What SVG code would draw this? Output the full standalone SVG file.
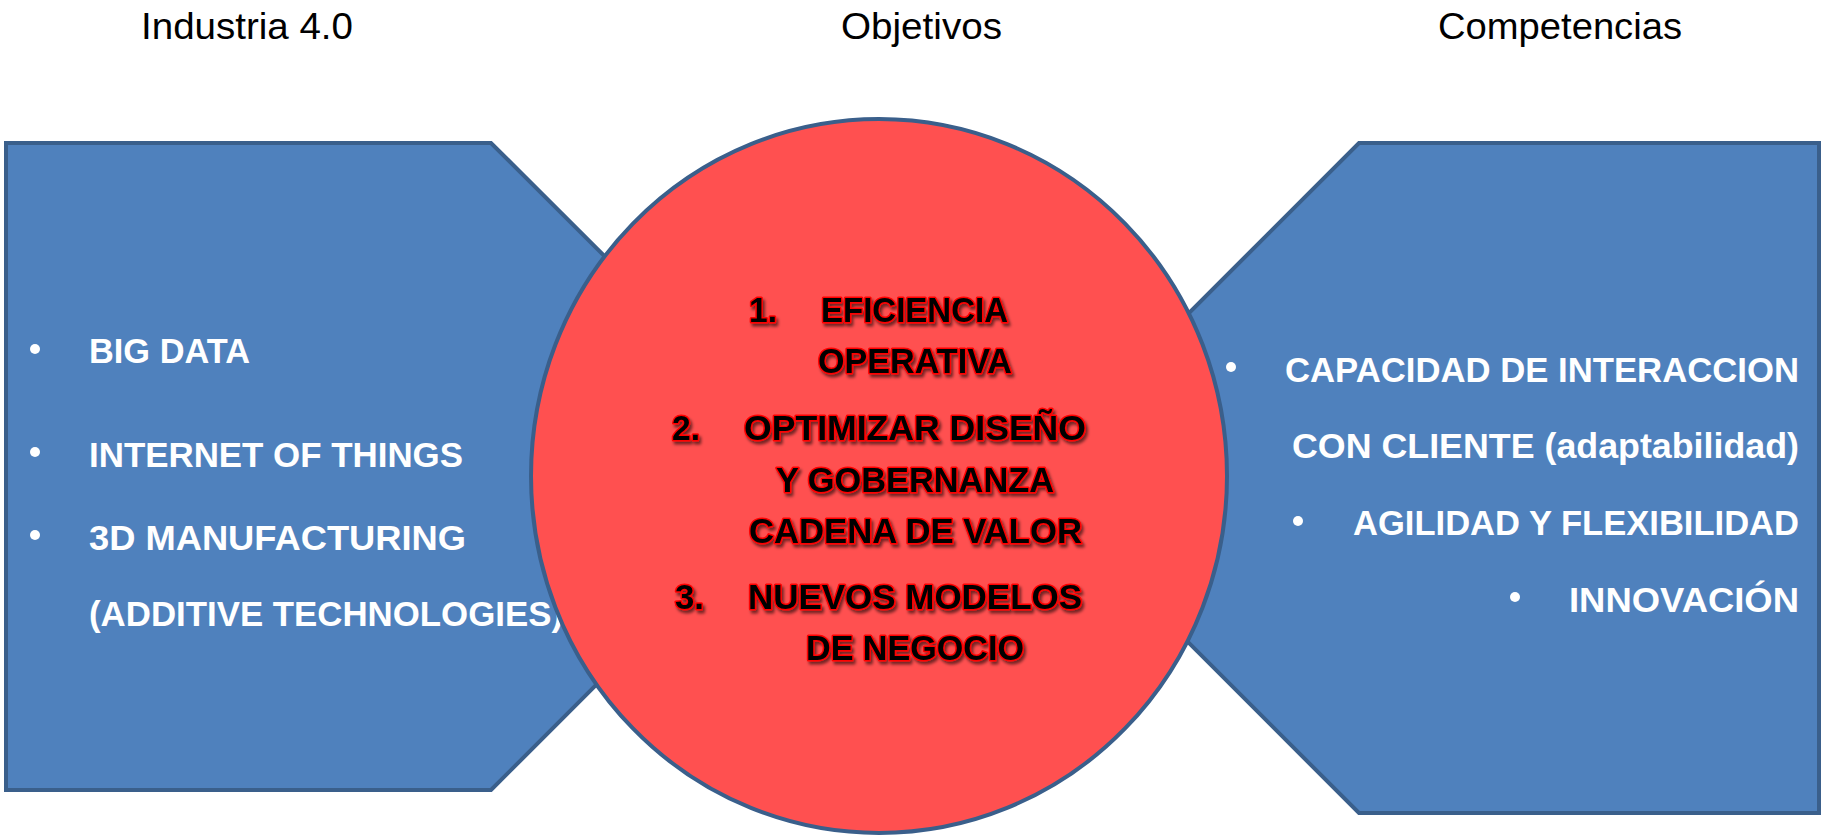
<svg xmlns="http://www.w3.org/2000/svg" width="1825" height="836" viewBox="0 0 1825 836">
<style>
.title{font-family:"Liberation Sans",Arial,sans-serif;font-size:36px;fill:#000}
.shape{fill:#4F81BD;stroke:#3A5F8B;stroke-width:4;stroke-linejoin:miter}
.circle{fill:#FF5050;stroke:#3A5F8B;stroke-width:4}
.wt{font-family:"Liberation Sans",Arial,sans-serif;font-size:35px;font-weight:bold;fill:#FFFFFF}
.ct{font-family:"Liberation Sans",Arial,sans-serif;font-size:35px;font-weight:bold;fill:#000;stroke:#FF0000;stroke-width:3;paint-order:stroke;stroke-linejoin:round}
.bul{fill:#FFFFFF}
</style>
<defs>
<filter id="sh" x="-10%" y="-30%" width="120%" height="160%">
<feDropShadow dx="2" dy="3" stdDeviation="1.5" flood-color="#000" flood-opacity="0.55"/>
</filter>
</defs>
<g id="titles">
<text class="title" x="141" y="39" textLength="212" lengthAdjust="spacingAndGlyphs">Industria 4.0</text>
<text class="title" x="841" y="39" textLength="161" lengthAdjust="spacingAndGlyphs">Objetivos</text>
<text class="title" x="1438" y="39" textLength="244" lengthAdjust="spacingAndGlyphs">Competencias</text>
</g>
<g id="connectors"></g>
<g id="node-industria">
<polygon class="shape" points="6,143 491,143 815,466 491,790 6,790"/>
<circle class="bul" cx="35" cy="349" r="5"/>
<circle class="bul" cx="35" cy="452" r="5"/>
<circle class="bul" cx="35" cy="535" r="5"/>
<text class="wt" x="89" y="363" textLength="161" lengthAdjust="spacingAndGlyphs">BIG DATA</text>
<text class="wt" x="89" y="467" textLength="374" lengthAdjust="spacingAndGlyphs">INTERNET OF THINGS</text>
<text class="wt" x="89" y="550" textLength="377" lengthAdjust="spacingAndGlyphs">3D MANUFACTURING</text>
<text class="wt" x="89" y="626" textLength="474" lengthAdjust="spacingAndGlyphs">(ADDITIVE TECHNOLOGIES)</text>
</g>
<g id="node-competencias">
<polygon class="shape" points="1359,143 1819,143 1819,813 1359,813 1024,478"/>
<circle class="bul" cx="1231" cy="367" r="5"/>
<circle class="bul" cx="1298" cy="521" r="5"/>
<circle class="bul" cx="1515" cy="597" r="5"/>
<text class="wt" x="1799" y="382" text-anchor="end" textLength="514" lengthAdjust="spacingAndGlyphs">CAPACIDAD DE INTERACCION</text>
<text class="wt" x="1799" y="458" text-anchor="end" textLength="507" lengthAdjust="spacingAndGlyphs">CON CLIENTE (adaptabilidad)</text>
<text class="wt" x="1799" y="535" text-anchor="end" textLength="446" lengthAdjust="spacingAndGlyphs">AGILIDAD Y FLEXIBILIDAD</text>
<text class="wt" x="1799" y="612" text-anchor="end" textLength="230" lengthAdjust="spacingAndGlyphs">INNOVACIÓN</text>
</g>
<g id="node-objetivos">
<ellipse class="circle" cx="879" cy="476" rx="348" ry="357"/>
<g filter="url(#sh)">
<text class="ct" x="749" y="322" textLength="28" lengthAdjust="spacingAndGlyphs">1.</text>
<text class="ct" x="821" y="322" textLength="187" lengthAdjust="spacingAndGlyphs">EFICIENCIA</text>
<text class="ct" x="818" y="373" textLength="194" lengthAdjust="spacingAndGlyphs">OPERATIVA</text>
<text class="ct" x="672" y="440" textLength="28" lengthAdjust="spacingAndGlyphs">2.</text>
<text class="ct" x="744" y="440" textLength="342" lengthAdjust="spacingAndGlyphs">OPTIMIZAR DISEÑO</text>
<text class="ct" x="776" y="492" textLength="278" lengthAdjust="spacingAndGlyphs">Y GOBERNANZA</text>
<text class="ct" x="749" y="543" textLength="333" lengthAdjust="spacingAndGlyphs">CADENA DE VALOR</text>
<text class="ct" x="675" y="609" textLength="29" lengthAdjust="spacingAndGlyphs">3.</text>
<text class="ct" x="748" y="609" textLength="334" lengthAdjust="spacingAndGlyphs">NUEVOS MODELOS</text>
<text class="ct" x="806" y="660" textLength="218" lengthAdjust="spacingAndGlyphs">DE NEGOCIO</text>
</g>
</g>
</svg>
